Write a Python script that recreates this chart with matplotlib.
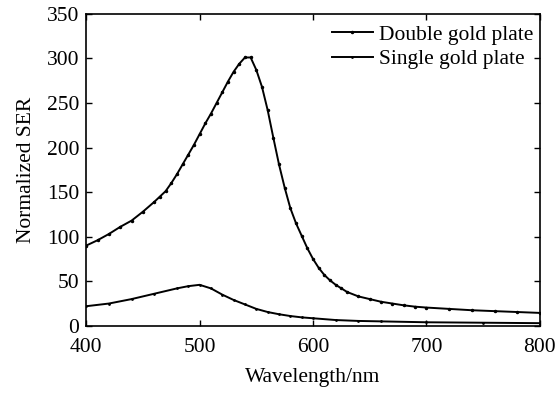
import matplotlib
matplotlib.use("Agg")
import matplotlib.pyplot as plt

plt.rcParams["font.family"] = ["Liberation Serif", "DejaVu Serif"]
plt.rcParams["font.size"] = 15.5

# Double gold plate
wl_double = [400, 410, 420, 430, 440, 450, 460, 465, 470, 475, 480, 485, 490,
             495, 500, 505, 510, 515, 520, 525, 530, 535, 540, 545, 550, 555,
             560, 565, 570, 575, 580, 585, 590, 595, 600, 605, 610, 615, 620,
             625, 630, 640, 650, 660, 670, 680, 690, 700, 720, 740, 760, 780,
             800]
ser_double = [90, 96, 103, 111, 118, 128, 139, 145, 151, 160, 170, 181, 192,
              203, 215, 227, 238, 250, 262, 274, 285, 294, 301, 301, 287, 268,
              242, 211, 181, 155, 132, 115, 101, 87, 75, 65, 57, 51, 46,
              42, 38, 33, 30, 27, 25, 23, 21.5, 20.5, 19, 17.5, 16.5, 15.5,
              14.5]

# Single gold plate
wl_single = [400, 420, 440, 460, 480, 490, 500, 510, 520, 530, 540, 550, 560,
             570, 580, 590, 600, 620, 640, 660, 700, 750, 800]
ser_single = [22, 25, 30, 36, 42, 44.5, 46, 42, 35, 29, 24, 19, 15.5,
              13, 11, 9.5, 8.5, 6.5, 5.5, 5, 4, 3.5, 3]

fig = plt.figure(figsize=(5.56, 3.94), dpi=100)
ax = fig.add_axes([0.155, 0.173, 0.816, 0.792])

ax.plot(wl_double, ser_double, color="black", lw=1.4, marker=".", ms=3,
        label="Double gold plate")
ax.plot(wl_single, ser_single, color="black", lw=1.4, marker=".", ms=2,
        label="Single gold plate")

ax.set_xlim(400, 800)
ax.set_ylim(0, 350)
ax.set_xticks([400, 500, 600, 700, 800])
ax.set_yticks(range(0, 351, 50))
ax.tick_params(direction="in", top=True, right=True, length=4, width=1)
ax.tick_params(axis="x", pad=9)
ax.tick_params(axis="y", pad=5)
for s in ax.spines.values():
    s.set_linewidth(1.2)

ax.set_xlabel("Wavelength/nm", labelpad=8)
ax.set_ylabel("Normalized SER", labelpad=8)

ax.legend(loc="upper right", bbox_to_anchor=(1.0, 0.985), frameon=False,
          handlelength=1.9, handletextpad=0.3, borderaxespad=0.0,
          labelspacing=0.2, borderpad=0.3)

fig.savefig("out.png", dpi=100)
